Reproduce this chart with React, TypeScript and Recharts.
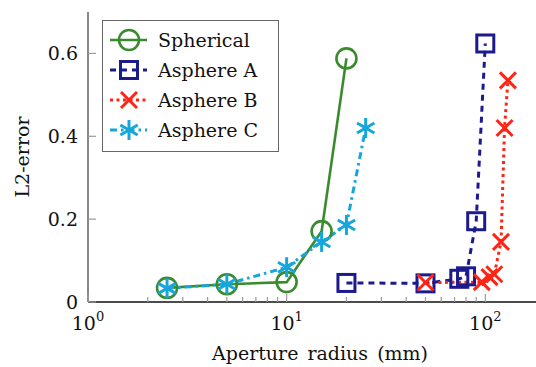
// L2-error against aperture radius for the spherical lens and three aspheres (log x axis)
import * as React from 'react';
import { ComposedChart, Line, XAxis, YAxis, Legend, Label } from 'recharts';

const SPHERICAL_R = [2.5, 5, 10, 15, 20];
const SPHERICAL_ERR = [0.034, 0.043, 0.048, 0.171, 0.588];
const ASPHERE_A_R = [20, 50, 74, 80, 90, 100];
const ASPHERE_A_ERR = [0.046, 0.045, 0.056, 0.062, 0.195, 0.624];
const ASPHERE_B_R = [50, 96, 105, 111, 120, 125, 130];
const ASPHERE_B_ERR = [0.047, 0.048, 0.06, 0.067, 0.145, 0.42, 0.535];
const ASPHERE_C_R = [2.5, 5, 10, 15, 20, 25];
const ASPHERE_C_ERR = [0.033, 0.043, 0.084, 0.145, 0.186, 0.42];

const X_TICKS = [1, 2, 3, 4, 5, 6, 7, 8, 9, 10, 20, 30, 40, 50, 60, 70, 80, 90, 100];
const Y_TICKS = [0, 0.2, 0.4, 0.6];

const GREEN = '#3a8b2e';
const BLUE = '#1b1b8e';
const RED = '#ff2414';
const CYAN = '#16a6dc';
const FONT = 'DejaVu Serif';
const FS = 19;

const toPoints = (xs: number[], ys: number[]) => xs.map((x, i) => ({ x, y: ys[i] }));

function Marker(props: { kind: string; cx: number; cy: number }) {
  const { kind, cx, cy } = props;
  if (kind === 'circle') {
    return <circle cx={cx} cy={cy} r={10} fill="none" stroke={GREEN} strokeWidth={2.6} />;
  }
  if (kind === 'square') {
    return <rect x={cx - 8.5} y={cy - 8.5} width={17} height={17} fill="none" stroke={BLUE} strokeWidth={3} />;
  }
  if (kind === 'cross') {
    return (
      <g stroke={RED} strokeWidth={3}>
        <line x1={cx - 8} y1={cy - 8} x2={cx + 8} y2={cy + 8} />
        <line x1={cx - 8} y1={cy + 8} x2={cx + 8} y2={cy - 8} />
      </g>
    );
  }
  const a = 10;
  const dx = a * Math.cos(Math.PI / 6);
  const dy = a * Math.sin(Math.PI / 6);
  return (
    <g stroke={CYAN} strokeWidth={3}>
      <line x1={cx} y1={cy - a} x2={cx} y2={cy + a} />
      <line x1={cx - dx} y1={cy - dy} x2={cx + dx} y2={cy + dy} />
      <line x1={cx - dx} y1={cy + dy} x2={cx + dx} y2={cy - dy} />
    </g>
  );
}

const SERIES = [
  { name: 'Spherical', data: toPoints(SPHERICAL_R, SPHERICAL_ERR), color: GREEN, width: 2.6, dash: undefined, kind: 'circle' },
  { name: 'Asphere A', data: toPoints(ASPHERE_A_R, ASPHERE_A_ERR), color: BLUE, width: 3, dash: '6 5', kind: 'square' },
  { name: 'Asphere B', data: toPoints(ASPHERE_B_R, ASPHERE_B_ERR), color: RED, width: 3, dash: '3 3.5', kind: 'cross' },
  { name: 'Asphere C', data: toPoints(ASPHERE_C_R, ASPHERE_C_ERR), color: CYAN, width: 3, dash: '7 4 2.5 4', kind: 'star' },
];

function XTick(props: any) {
  const { x, y, payload } = props;
  const v = payload.value;
  const exp = Math.round(Math.log10(v));
  const major = Math.abs(Math.pow(10, exp) - v) < 1e-9;
  return (
    <g>
      <line x1={x} y1={y} x2={x} y2={y - (major ? 8 : 5)} stroke="#999" strokeWidth={1.2} />
      {major && (
        <text x={x} y={y + 28} textAnchor="middle" fontFamily={FONT} fontSize={FS} fill="#111">
          10<tspan fontSize={13} dy={-9}>{exp}</tspan>
        </text>
      )}
    </g>
  );
}

function YTick(props: any) {
  const { x, y, payload } = props;
  return (
    <g>
      <line x1={x} y1={y} x2={x + 8} y2={y} stroke="#999" strokeWidth={1.2} />
      <text x={x - 10} y={y} dy={7} textAnchor="end" fontFamily={FONT} fontSize={FS} fill="#111">
        {payload.value === 0 ? '0' : payload.value.toFixed(1)}
      </text>
    </g>
  );
}

function LegendBox() {
  return (
    <div style={{ border: '1.5px solid #666', background: '#fff', width: 177, padding: '4px 0 6px 0', boxSizing: 'border-box' }}>
      {SERIES.map((s) => (
        <div key={s.name} style={{ display: 'flex', alignItems: 'center', height: 30 }}>
          <svg width={50} height={30}>
            <line x1={7} y1={15} x2={44} y2={15} stroke={s.color} strokeWidth={s.width} strokeDasharray={s.dash} />
            <Marker kind={s.kind} cx={26} cy={15} />
          </svg>
          <span style={{ fontFamily: FONT, fontSize: FS, color: '#111', marginLeft: 5 }}>{s.name}</span>
        </div>
      ))}
    </div>
  );
}

export default function App() {
  return (
    <div style={{ position: 'absolute', left: 0, top: 0 }}>
      <ComposedChart width={536} height={367} margin={{ top: 12, right: 0, bottom: 0, left: 0 }}>
        <XAxis
          type="number"
          dataKey="x"
          scale="log"
          domain={[1, 180]}
          ticks={X_TICKS}
          allowDataOverflow
          height={65}
          tickSize={0}
          tickMargin={0}
          tick={<XTick />}
          axisLine={{ stroke: '#111', strokeWidth: 1.5 }}
          interval={0}
        >
          <Label
            content={(p: any) => {
              const vb = p.viewBox;
              return (
                <text x={vb.x + vb.width / 2 + 8} y={vb.y + 58} textAnchor="middle" fontFamily={FONT} fontSize={FS} fill="#111" wordSpacing={3}>
                  Aperture radius (mm)
                </text>
              );
            }}
          />
        </XAxis>
        <YAxis
          type="number"
          domain={[0, 0.7]}
          ticks={Y_TICKS}
          width={88}
          tickSize={0}
          tickMargin={0}
          tick={<YTick />}
          axisLine={{ stroke: '#888', strokeWidth: 2 }}
          interval={0}
        >
          <Label
            content={(p: any) => {
              const vb = p.viewBox;
              const cy = vb.y + vb.height / 2;
              return (
                <text x={29} y={cy} transform={`rotate(-90 29 ${cy})`} textAnchor="middle" fontFamily={FONT} fontSize={FS} fill="#111">
                  L2-error
                </text>
              );
            }}
          />
        </YAxis>
        {SERIES.map((s) => (
          <Line
            key={s.name}
            name={s.name}
            data={s.data}
            dataKey="y"
            type="linear"
            stroke={s.color}
            strokeWidth={s.width}
            strokeDasharray={s.dash}
            isAnimationActive={false}
            dot={(p: any) => <Marker key={`${s.name}-${p.index}`} kind={s.kind} cx={p.cx} cy={p.cy} />}
            activeDot={false}
          />
        ))}
        <Legend
          layout="vertical"
          align="center"
          verticalAlign="middle"
          wrapperStyle={{ left: 102, top: 20, width: 177 }}
          content={() => <LegendBox />}
        />
      </ComposedChart>
    </div>
  );
}
